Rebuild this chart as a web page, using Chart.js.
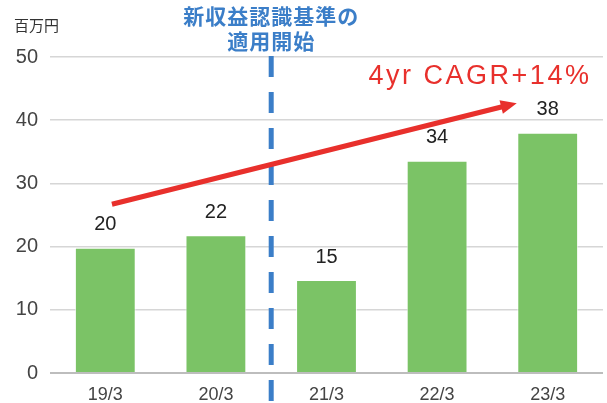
<!DOCTYPE html>
<html>
<head>
<meta charset="utf-8">
<script src="https://cdn.jsdelivr.net/npm/chart.js@4"></script>
<style>
  html, body { margin: 0; padding: 0; background: #fff; }
  #wrap { width: 607px; height: 403px; position: relative; }
</style>
</head>
<body>
<div id="wrap"><canvas id="myChart"></canvas></div>
<script>
// datos
const categories = ['19/3', '20/3', '21/3', '22/3', '23/3'];
const sales = [19.8, 21.8, 14.7, 33.6, 38.0];
const yTicks = [0, 10, 20, 30, 40, 50];
const unitLabel = '百万円';
const noteLines = ['新収益認識基準の', '適用開始'];
const cagrText = '4yr CAGR+14%';
// arrow ends in data space: [category index, value]
const arrowFrom = [0.06, 26.7];
const arrowTo = [3.72, 42.7];

const FONT = "'Liberation Sans', Arial, sans-serif";
const JP = "'Noto Sans CJK JP', sans-serif";

const overlay = {
  id: 'overlay',
  afterDatasetsDraw(chart) {
    const { ctx, scales: { x, y } } = chart;
    ctx.save();

    // valores sobre las barras
    ctx.fillStyle = '#222';
    ctx.font = '20px ' + FONT;
    ctx.textAlign = 'center';
    ctx.textBaseline = 'middle';
    const meta = chart.getDatasetMeta(0);
    meta.data.forEach((bar, i) => {
      ctx.fillText(Math.round(sales[i]), bar.x, bar.y - 23);
    });

    // linea discontinua
    const xm = (x.getPixelForValue(1) + x.getPixelForValue(2)) / 2;
    ctx.strokeStyle = '#3b7ec8';
    ctx.lineWidth = 5;
    ctx.setLineDash([21, 15]);
    ctx.beginPath();
    ctx.moveTo(xm, y.getPixelForValue(50) - 1);
    ctx.lineTo(xm, chart.height);
    ctx.stroke();
    ctx.setLineDash([]);

    // texto azul
    ctx.fillStyle = '#3b7ec8';
    ctx.font = 'bold 21px ' + JP;
    ctx.letterSpacing = '1px';
    ctx.fillText(noteLines[0], xm, 16);
    ctx.fillText(noteLines[1], xm, 41);
    ctx.letterSpacing = '0px';

    // flecha roja
    const x1 = x.getPixelForValue(arrowFrom[0]), y1 = y.getPixelForValue(arrowFrom[1]);
    const x2 = x.getPixelForValue(arrowTo[0]), y2 = y.getPixelForValue(arrowTo[1]);
    const ang = Math.atan2(y2 - y1, x2 - x1);
    const head = 16;
    ctx.strokeStyle = '#e8302c';
    ctx.fillStyle = '#e8302c';
    ctx.lineWidth = 5;
    ctx.beginPath();
    ctx.moveTo(x1, y1);
    ctx.lineTo(x2 - head * 0.8 * Math.cos(ang), y2 - head * 0.8 * Math.sin(ang));
    ctx.stroke();
    ctx.beginPath();
    ctx.moveTo(x2, y2);
    ctx.lineTo(x2 - head * Math.cos(ang) + 7 * Math.sin(ang), y2 - head * Math.sin(ang) - 7 * Math.cos(ang));
    ctx.lineTo(x2 - head * Math.cos(ang) - 7 * Math.sin(ang), y2 - head * Math.sin(ang) + 7 * Math.cos(ang));
    ctx.closePath();
    ctx.fill();

    ctx.font = '27px ' + FONT;
    ctx.letterSpacing = '2.5px';
    ctx.textAlign = 'center';
    ctx.fillText(cagrText, 480, 77);
    ctx.letterSpacing = '0px';

    // unidad
    ctx.fillStyle = '#333';
    ctx.font = '15px ' + JP;
    ctx.textAlign = 'left';
    ctx.fillText(unitLabel, 14, 25);

    ctx.restore();
  }
};

const ctx = document.getElementById('myChart');

new Chart(ctx, {
  type: 'bar',
  data: {
    labels: categories,
    datasets: [{
      data: sales,
      backgroundColor: '#7bc366',
      borderColor: 'rgba(255,255,255,0.7)',
      borderWidth: 1,
      barPercentage: 0.55,
      categoryPercentage: 1
    }]
  },
  options: {
    responsive: true,
    maintainAspectRatio: false,
    animation: false,
    layout: { padding: { top: 57, right: 4, left: 0, bottom: 0 } },
    plugins: { legend: { display: false }, tooltip: { enabled: false } },
    scales: {
      x: {
        grid: { display: false, drawTicks: false },
        border: { display: false },
        ticks: { color: '#444', font: { size: 18, family: FONT }, padding: 11 },
        afterFit(scale) { scale.height = 30; }
      },
      y: {
        min: 0,
        max: 50,
        afterBuildTicks(scale) { scale.ticks = yTicks.map(v => ({ value: v })); },
        grid: {
          drawTicks: false,
          color: c => c.tick && c.tick.value === 0 ? '#bdbdbd' : '#d6d6d6',
          lineWidth: c => c.tick && c.tick.value === 0 ? 2 : 1.5
        },
        border: { display: false },
        ticks: { color: '#444', font: { size: 20, family: FONT }, padding: 12 },
        afterFit(scale) { scale.width = 50; }
      }
    }
  },
  plugins: [overlay]
});
</script>
</body>
</html>
